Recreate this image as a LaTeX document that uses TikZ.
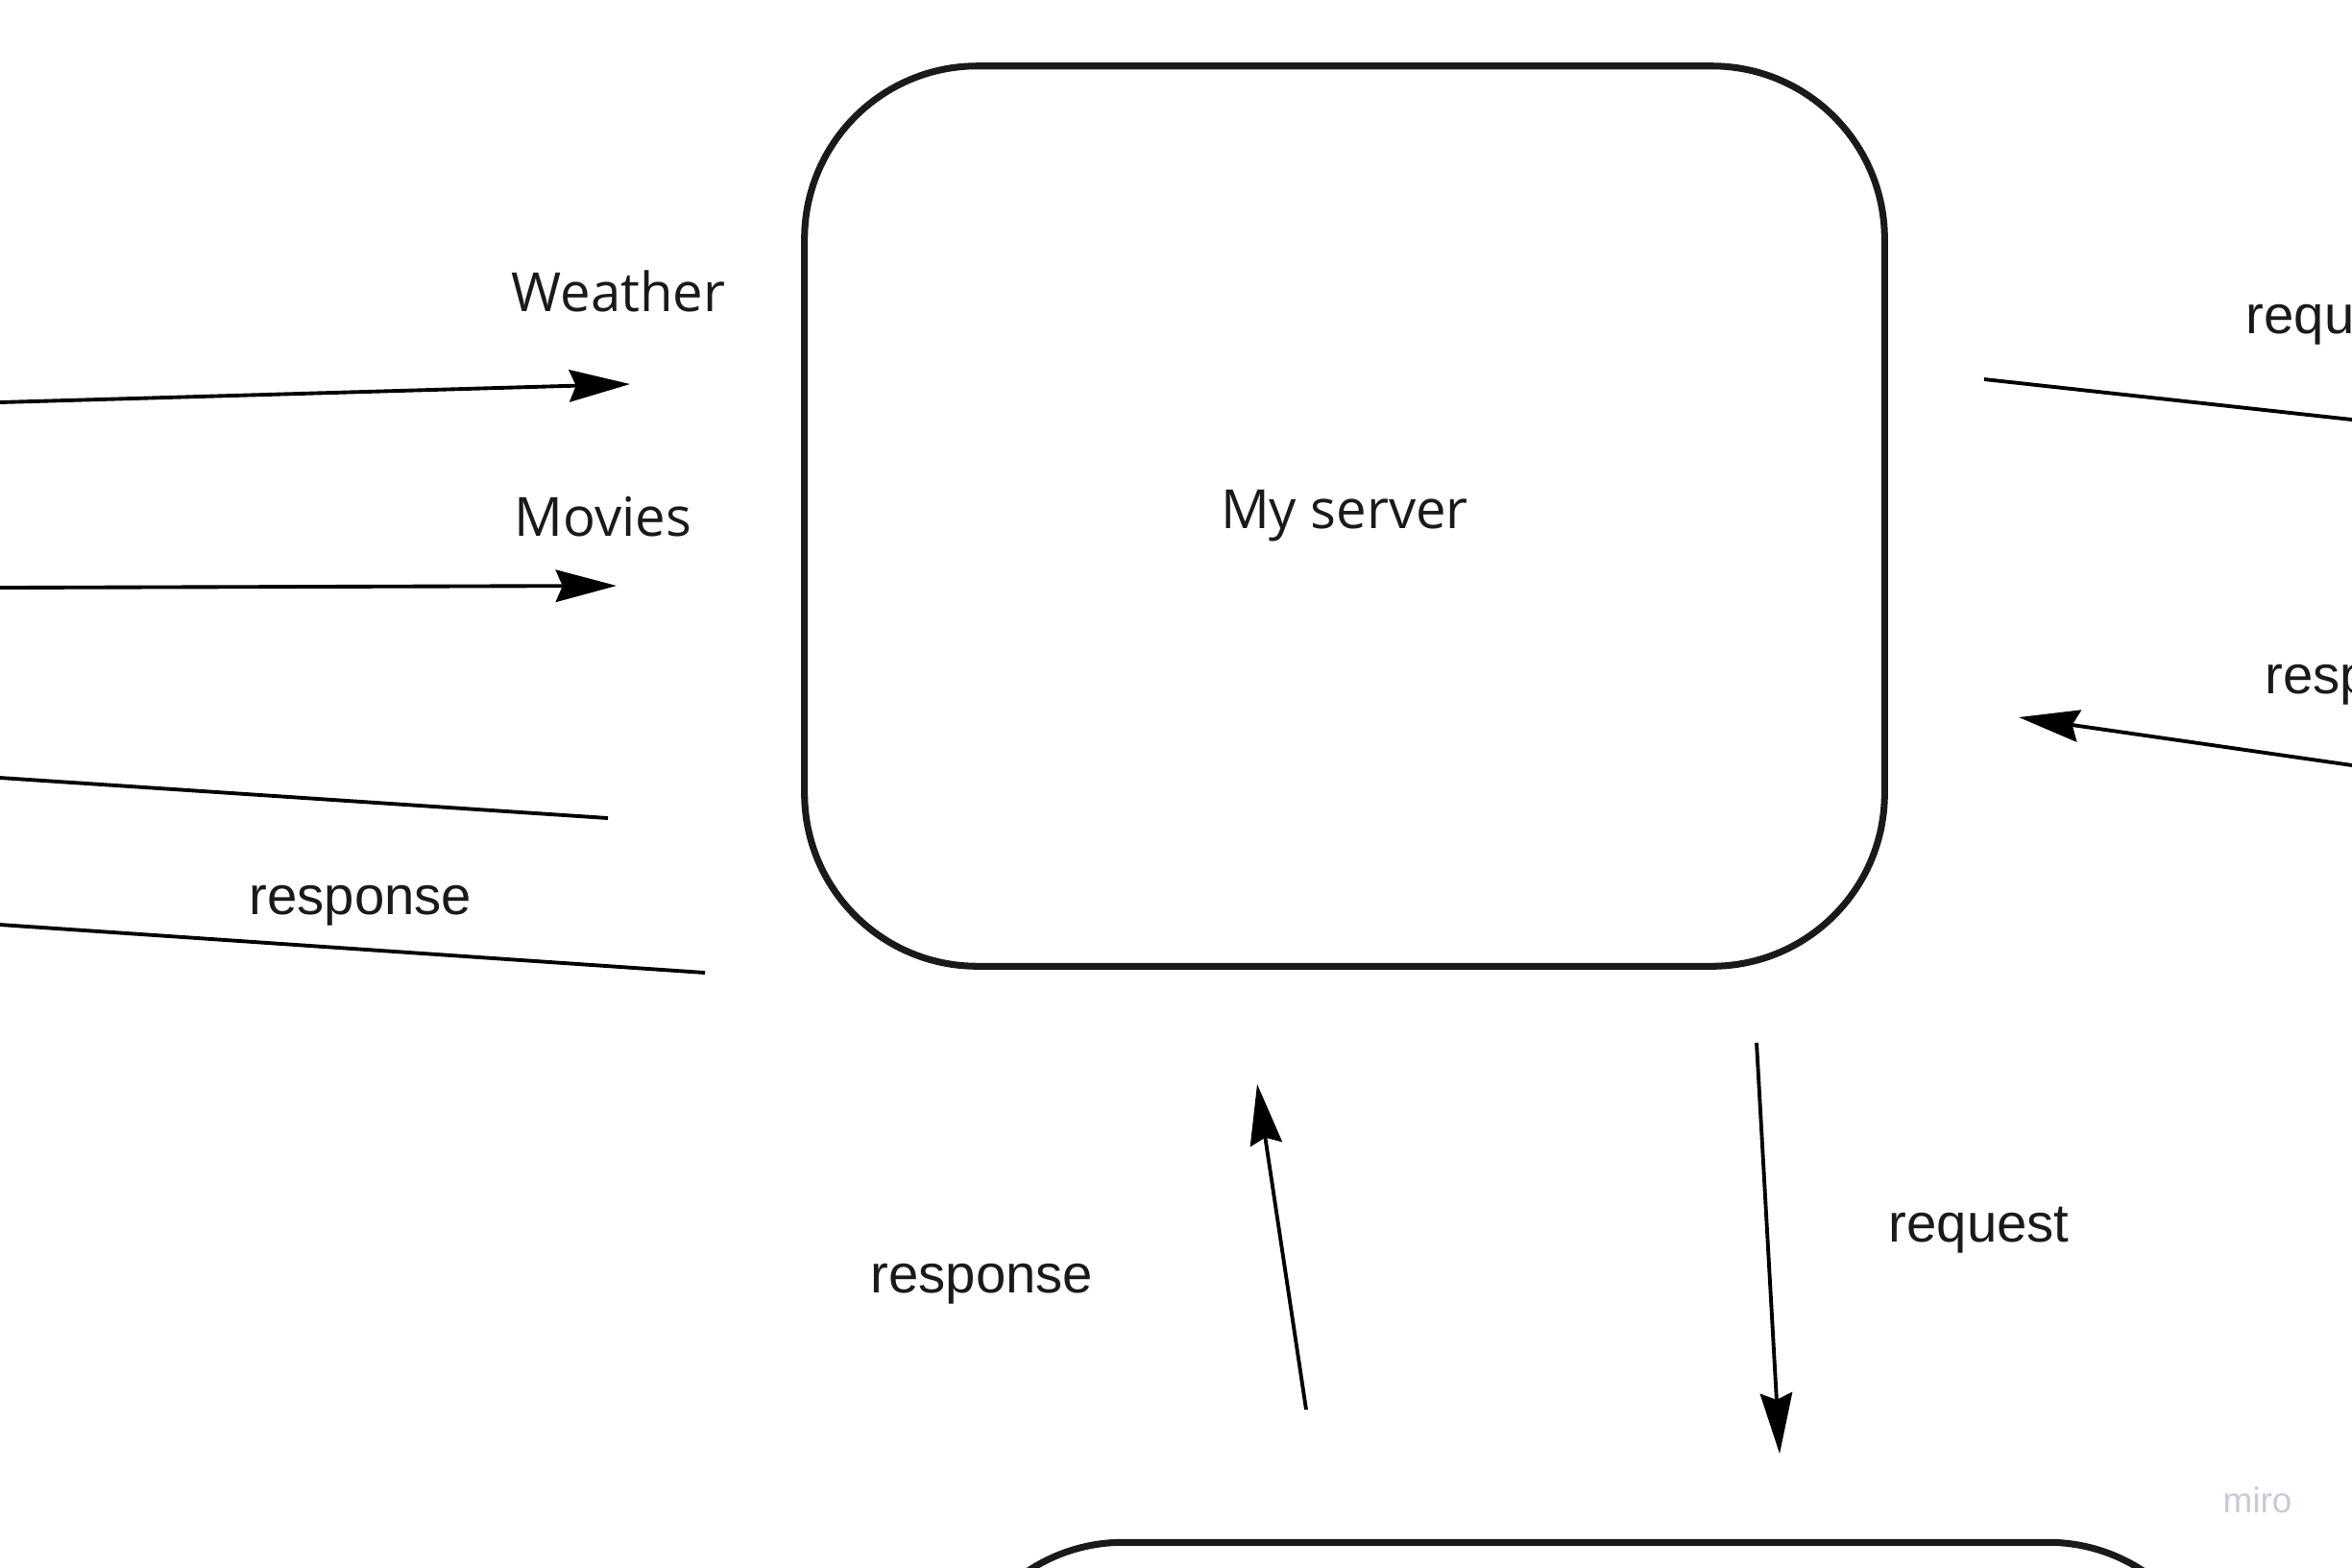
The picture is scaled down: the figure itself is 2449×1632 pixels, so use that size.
\documentclass[tikz,border=0pt]{standalone}
\usepackage{fontspec}
\setmainfont{Liberation Sans}
\newfontfamily\osans{Open Sans}
\usetikzlibrary{arrows.meta}
\definecolor{ink}{HTML}{1A1A1A}
\definecolor{mirogray}{RGB}{200,202,216}
\begin{document}
\begin{tikzpicture}[x=0.01cm,y=-0.01cm,
  box/.style={draw=ink, line width=2pt, rounded corners=1.8cm, inner sep=0pt,
    text=ink, font=\osans\fontsize{16pt}{19pt}\selectfont},
  lbl/.style={anchor=base west, inner sep=0pt, text=ink, font=\fontsize{16pt}{19pt}\selectfont},
  olbl/.style={lbl, font=\osans\fontsize{16pt}{19pt}\selectfont},
  conn/.style={draw=black, line width=1.1pt},
  arr/.style={conn, -{Stealth[length=18pt,width=9.5pt,inset=2pt]}}]
\useasboundingbox (0,0) rectangle (2449,1632);
\clip (0,0) rectangle (2449,1632);
\fill[white] (0,0) rectangle (2449,1632);

% boxes
\node[box, minimum width=11.24cm, minimum height=9.37cm] (server) at (1400,537.5) {My server};
\node[box, minimum width=13.22cm, minimum height=9.37cm] (lower) at (1651,2075) {};

% labels
\node[olbl] (weather) at (532,324) {Weather};
\node[olbl] (movies) at (535,558) {Movies};
\node[lbl] (resp1) at (259,952) {response};
\node[lbl] (resp2) at (906,1346) {response};
\node[lbl] (req2) at (1966,1293) {request};
\node[lbl] (req3) at (2338,347) {request};
\node[lbl] (resp3) at (2358,722) {response};
\node[anchor=base west, inner sep=0pt, text=mirogray, font=\fontsize{10.5pt}{12pt}\selectfont] (miro) at (2314,1575) {miro};

% connector end points
\coordinate (w0) at (0,419);   \coordinate (w1) at (656,400);
\coordinate (m0) at (0,612);   \coordinate (m1) at (642,610);
\coordinate (l30) at (0,810);  \coordinate (l31) at (633,852);
\coordinate (l40) at (0,963);  \coordinate (l41) at (734,1013);
\coordinate (r10) at (2066,395); \coordinate (r11) at (2449,437);
\coordinate (r20) at (2449,797); \coordinate (r21) at (2102,747);
\coordinate (b10) at (1360,1468); \coordinate (b11) at (1309,1129);
\coordinate (b20) at (1829,1086); \coordinate (b21) at (1853,1514);

% connectors
\draw[arr] (w0) -- (w1);
\draw[arr] (m0) -- (m1);
\draw[conn] (l30) -- (l31);
\draw[conn] (l40) -- (l41);
\draw[conn] (r10) -- (r11);
\draw[arr] (r20) -- (r21);
\draw[arr] (b10) -- (b11);
\draw[arr] (b20) -- (b21);
\end{tikzpicture}
\end{document}
